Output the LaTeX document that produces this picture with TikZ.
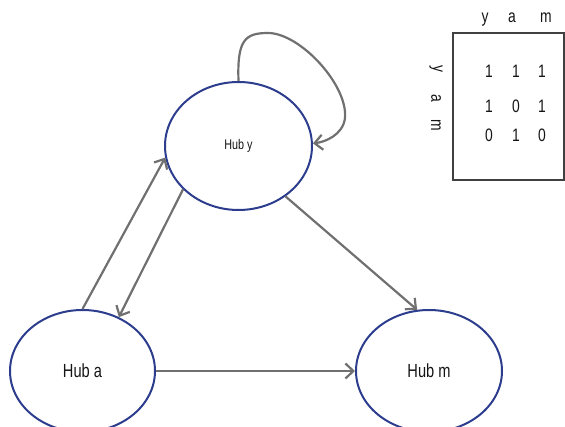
\documentclass[tikz,border=0pt]{standalone}
\usepackage{fontspec}
\setmainfont{Liberation Sans}[FakeStretch=0.77]
\usetikzlibrary{shapes.geometric,arrows.meta}
\definecolor{hubblue}{HTML}{2C3D8E}
\definecolor{arrgray}{HTML}{707070}
\definecolor{txt}{HTML}{141414}
\tikzset{
  hub/.style={ellipse,draw=hubblue,line width=2pt,inner sep=0pt,text=txt},
  arr/.style={draw=arrgray,line width=2.2pt,-{Straight Barb[length=8pt,width=15pt]}},
  mtxt/.style={text=txt,font=\fontsize{18}{20}\selectfont,inner sep=0pt,anchor=base},
  rowlab/.style={text=txt,font=\fontsize{18}{20}\selectfont,inner sep=0pt,rotate=-90},
  mbox/.style={draw=black!75,line width=1.4pt,inner sep=0pt}
}
\begin{document}
\begin{tikzpicture}[x=1pt,y=-1pt]
\useasboundingbox (0,0) rectangle (565,427);
% hubs
\node[hub,minimum width=147pt,minimum height=128pt,font=\fontsize{14}{16}\selectfont] (y) at (238.5,146) {Hub y};
\node[hub,minimum width=145pt,minimum height=122pt,font=\fontsize{19}{21}\selectfont] (a) at (82.5,371) {Hub a};
\node[hub,minimum width=146pt,minimum height=122pt,font=\fontsize{19}{21}\selectfont] (m) at (429,371) {Hub m};
% connectors
\draw[arr] (a.90) -- (y.189);
\draw[arr] (y.218) -- (a.56);
\draw[arr] (y.313) -- (m.101);
\draw[arr] (a.east) -- (m.west);
\draw[arr] (y.90) .. controls (237,40) and (245,33) .. (268,33)
  .. controls (300,33) and (348,85) .. (345,118)
  .. controls (343,135) and (325,142) .. (y.2);
% matrix
\node[mbox,minimum width=111pt,minimum height=147pt] (mat) at (508.5,106.5) {};
\node[mtxt] (cy) at (485,23) {y};
\node[mtxt] (ca) at (512,23) {a};
\node[mtxt] (cm) at (546,23) {m};
\node[rowlab] (ry) at (436,69) {y};
\node[rowlab] (ra) at (436,98) {a};
\node[rowlab] (rm) at (436,125) {m};
\node[mtxt] (v11) at (489,78) {1};
\node[mtxt] (v12) at (516,78) {1};
\node[mtxt] (v13) at (542,78) {1};
\node[mtxt] (v21) at (489,113) {1};
\node[mtxt] (v22) at (516,113) {0};
\node[mtxt] (v23) at (542,113) {1};
\node[mtxt] (v31) at (489,141.5) {0};
\node[mtxt] (v32) at (516,141.5) {1};
\node[mtxt] (v33) at (542,141.5) {0};
\end{tikzpicture}
\end{document}
